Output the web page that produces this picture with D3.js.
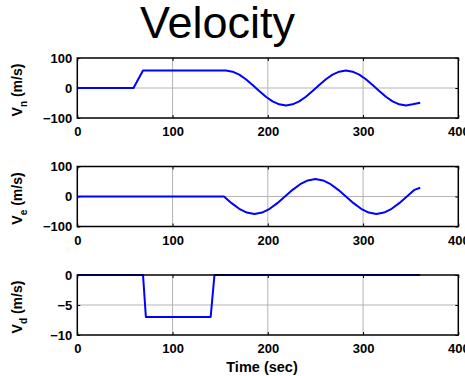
<!DOCTYPE html>
<html>
<head>
<meta charset="utf-8">
<script src="https://cdn.jsdelivr.net/npm/d3@7"></script>
<style>
  html, body { margin: 0; padding: 0; background: #fff; }
  svg { display: block; }
  .tick text { font-family: "Liberation Sans", Arial, sans-serif; font-weight: bold; font-size: 13px; fill: #000; }
</style>
</head>
<body>
<svg id="chart" width="465" height="376"></svg>
<script>
// Velocity components over time: [time (s), value]
const vnPoints = [
  [0, 0], [59, 0], [69, 58], [156, 58], [163, 54.5], [170, 44.4], [177, 29], [184, 10.1],
  [191, -10.1], [198, -29], [205, -44.4], [212, -54.5], [219, -58], [226, -54.5], [233, -44.4],
  [240, -29], [247, -10.1], [254, 10.1], [261, 29], [268, 44.4], [275, 54.5], [282, 58],
  [289, 54.5], [296, 44.4], [303, 29], [310, 10.1], [317, -10.1], [324, -29], [331, -44.4],
  [338, -54.5], [345, -58], [352, -54.5], [360, -49]
];
const vePoints = [
  [0, 0], [154, 0], [162, -22.2], [170, -41], [178, -53.6], [186, -58], [194, -53.6],
  [202, -41], [210, -22.2], [218, 0], [226, 22.2], [234, 41], [242, 53.6], [250, 58],
  [258, 53.6], [266, 41], [274, 22.2], [282, 0], [290, -22.2], [298, -41], [306, -53.6],
  [314, -58], [322, -53.6], [330, -41], [338, -22.2], [346, 0], [354, 22.2], [360, 29]
];
const vdPoints = [[0, 0], [69, 0], [72, -7], [140, -7], [144, 0], [360, 0]];

const timeTicks = [0, 100, 200, 300, 400];
const vnTicks = [-100, 0, 100];
const veTicks = [-100, 0, 100];
const vdTicks = [-10, -5, 0];

const panels = [
  { data: vnPoints, domain: [-100, 100], ticks: vnTicks, sub: "n", top: 58 },
  { data: vePoints, domain: [-100, 100], ticks: veTicks, sub: "e", top: 166.5 },
  { data: vdPoints, domain: [-10, 0], ticks: vdTicks, sub: "d", top: 275 }
];

const svg = d3.select("#chart");
const left = 77.3, right = 458.3, h = 60;
const x = d3.scaleLinear().domain([0, 400]).range([left, right]);
const fmt = d => d < 0 ? "\u2212" + Math.abs(d) : String(d);

svg.append("text")
  .attr("x", 217.5).attr("y", 38)
  .attr("text-anchor", "middle")
  .attr("font-family", "Liberation Sans, Arial, sans-serif")
  .attr("font-size", 45)
  .text("Velocity");

panels.forEach(p => {
  const y = d3.scaleLinear().domain(p.domain).range([p.top + h, p.top]);
  const g = svg.append("g");

  // grid lines
  g.selectAll(".gx").data(timeTicks.slice(1, -1)).join("line")
    .attr("x1", d => x(d)).attr("x2", d => x(d))
    .attr("y1", p.top).attr("y2", p.top + h)
    .attr("stroke", "#b4b4b4").attr("stroke-width", 1);
  g.selectAll(".gy").data(p.ticks.slice(1, -1)).join("line")
    .attr("x1", left).attr("x2", right)
    .attr("y1", d => y(d)).attr("y2", d => y(d))
    .attr("stroke", "#b4b4b4").attr("stroke-width", 1);

  // axes with inward ticks
  const xa = g.append("g").attr("transform", `translate(0,${p.top + h})`)
    .call(d3.axisBottom(x).tickValues(timeTicks).tickSizeInner(-3).tickSizeOuter(0).tickPadding(0).tickFormat(fmt));
  xa.selectAll(".tick text").attr("y", 6).attr("dy", "0.95em");
  g.append("g").attr("transform", `translate(0,${p.top})`)
    .call(d3.axisTop(x).tickValues(timeTicks).tickSizeInner(-3).tickSizeOuter(0).tickFormat(""));
  const ya = g.append("g").attr("transform", `translate(${left},0)`)
    .call(d3.axisLeft(y).tickValues(p.ticks).tickSizeInner(-3).tickSizeOuter(0).tickPadding(0).tickFormat(fmt));
  ya.selectAll(".tick text").attr("x", -5);
  g.append("g").attr("transform", `translate(${right},0)`)
    .call(d3.axisRight(y).tickValues(p.ticks).tickSizeInner(-3).tickSizeOuter(0).tickFormat(""));
  g.selectAll(".domain").remove();
  g.selectAll(".tick line").attr("stroke", "#000").attr("stroke-width", 1);

  // data line
  g.append("path").datum(p.data)
    .attr("fill", "none").attr("stroke", "#0000ff").attr("stroke-width", 2)
    .attr("stroke-linejoin", "round")
    .attr("d", d3.line().x(d => x(d[0])).y(d => y(d[1])));

  // frame
  g.append("rect").attr("x", left).attr("y", p.top)
    .attr("width", right - left).attr("height", h)
    .attr("fill", "none").attr("stroke", "#000").attr("stroke-width", 1.5);

  // y label
  const lbl = svg.append("text")
    .attr("transform", `translate(22,${p.top + h / 2 + 2}) rotate(-90)`)
    .attr("text-anchor", "middle")
    .attr("font-family", "Liberation Sans, Arial, sans-serif")
    .attr("font-weight", "bold").attr("font-size", 14);
  lbl.append("tspan").text("V");
  lbl.append("tspan").attr("font-size", 10).attr("dy", 5).text(p.sub);
  lbl.append("tspan").attr("dy", -5).text(" (m/s)");
});

svg.append("text")
  .attr("x", 262).attr("y", 372)
  .attr("text-anchor", "middle")
  .attr("font-family", "Liberation Sans, Arial, sans-serif")
  .attr("font-weight", "bold").attr("font-size", 14.5)
  .text("Time (sec)");
</script>
</body>
</html>
